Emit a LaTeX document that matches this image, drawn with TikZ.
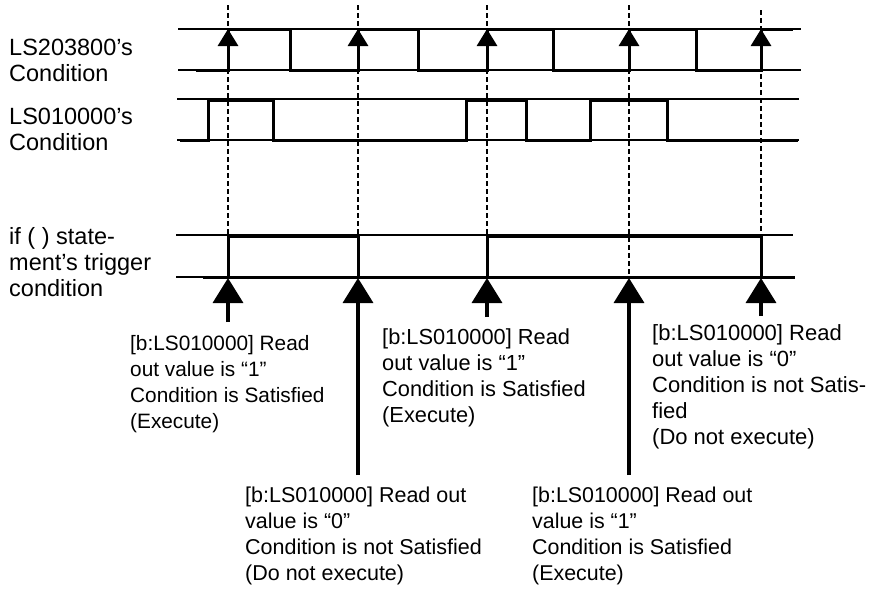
\documentclass[tikz,border=0pt]{standalone}
\usepackage{fontspec}
\setmainfont{Liberation Sans}
\usetikzlibrary{arrows.meta}
\begin{document}
\begin{tikzpicture}[x=1pt,y=-1pt,
  gridline/.style={line width=1.2pt},
  sigline/.style={line width=3pt},
  guideline/.style={line width=1.3pt, dash pattern=on 5pt off 3pt},
  smallarrow/.style={line width=3pt, -{Triangle[width=20pt,length=17pt]}},
  bigarrow/.style={line width=3.5pt, -{Triangle[width=30pt,length=25pt]}},
  lefttext/.style={anchor=base west, align=left, inner sep=0pt, font=\fontsize{23.5pt}{25.8pt}\selectfont},
  notetext/.style={anchor=base west, align=left, inner sep=0pt, font=\fontsize{#1}{26pt}\selectfont},
  notetext/.default={21.5pt}]
\useasboundingbox (0,0) rectangle (871,590);

% dashed guides
\foreach \x/\ya/\yb in {228/5/235, 358/5/235, 487/5/235, 629/5/277, 761/10/235}
  \draw[guideline] (\x,\ya) -- (\x,\yb);

% reference lines
\draw[gridline] (178,29) -- (801,29) (178,70) -- (801,70);
\draw[gridline] (177,99) -- (799,99) (177,140) -- (799,140);
\draw[gridline] (176,235) -- (793,235) (176,277) -- (203,277);

% LS203800 signal
\draw[sigline] (196,70) -- (228,70) -- (228,29) -- (290,29) -- (290,70) -- (358,70) -- (358,29)
  -- (418,29) -- (418,70) -- (487,70) -- (487,29) -- (553,29) -- (553,70) -- (629,70)
  -- (629,29) -- (696,29) -- (696,70) -- (761,70) -- (761,29) -- (793,29);

% LS010000 signal
\draw[sigline] (180,140) -- (208,140) -- (208,100) -- (273,100) -- (273,140) -- (466,140)
  -- (466,100) -- (526,100) -- (526,140) -- (590,140) -- (590,100) -- (667,100)
  -- (667,140) -- (798,140);

% if() trigger signal
\draw[sigline] (203,277) -- (795,277);
\draw[sigline] (228,277) -- (228,236) -- (358,236) -- (358,277);
\draw[sigline] (487,277) -- (487,236) -- (761,236) -- (761,277);

% sampling arrows (top)
\foreach \x in {228,358,487,629,761}{
  \coordinate (sb\x) at (\x,70);
  \coordinate (st\x) at (\x,29);
  \draw[smallarrow] (sb\x) -- (st\x);
}

% evaluation arrows (bottom)
\foreach \x/\y in {228/322, 358/475, 487/317, 629/475, 761/316}{
  \coordinate (eb\x) at (\x,\y);
  \coordinate (et\x) at (\x,278);
  \draw[bigarrow] (eb\x) -- (et\x);
}

% left labels (anchor = baseline of last line)
\node[lefttext] (lab1) at (9,81) {LS203800’s\\Condition};
\node[lefttext] (lab2) at (9,150) {LS010000’s\\Condition};
\node[lefttext] (lab3) at (9,296.5) {if ( ) state-\\ment’s trigger\\condition};

% notes (anchor = baseline of last line)
\node[notetext=20.8pt] (n1) at (130,428) {[b:LS010000] Read\\out value is “1”\\Condition is Satisfied\\(Execute)};
\node[notetext=21.5pt] (n2) at (245,580) {[b:LS010000] Read out\\value is “0”\\Condition is not Satisfied\\(Do not execute)};
\node[notetext=21.8pt] (n3) at (382,422) {[b:LS010000] Read\\out value is “1”\\Condition is Satisfied\\(Execute)};
\node[notetext=21.4pt] (n4) at (532,580) {[b:LS010000] Read out\\value is “1”\\Condition is Satisfied\\(Execute)};
\node[notetext=22pt] (n5) at (652,444) {[b:LS010000] Read\\out value is “0”\\Condition is not Satis-\\fied\\(Do not execute)};
\end{tikzpicture}
\end{document}
